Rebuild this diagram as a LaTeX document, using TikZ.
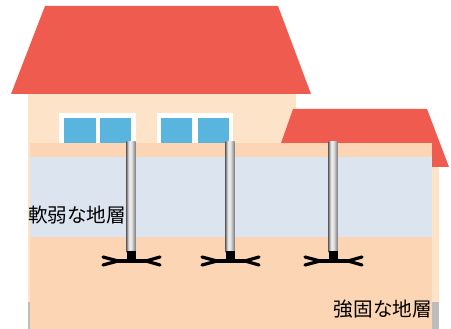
\documentclass[tikz,border=0pt]{standalone}
\usepackage{fontspec}
\newfontfamily\jpfont{Noto Sans CJK JP}
\definecolor{roof}{HTML}{F05B4F}
\definecolor{wall}{HTML}{FDE4C9}
\definecolor{soil}{HTML}{FCD5B4}
\definecolor{soft}{HTML}{DCE4F0}
\definecolor{glass}{HTML}{59B5DD}
\definecolor{base}{HTML}{BDBDBD}
% metal look of the pile shaft, left to right
\pgfdeclarehorizontalshading{shaft}{100bp}{%
	color(0bp)=(black!55); color(25bp)=(black!55); color(33bp)=(black!25);
	color(42bp)=(black!5); color(55bp)=(black!15); color(66bp)=(black!35);
	color(75bp)=(black!50); color(100bp)=(black!50)}

\begin{document}
\begin{tikzpicture}[x=1pt,y=-1pt,
	pile/.style={shading=shaft, shading angle=0},
	blade/.style={black, line width=3.2pt, line cap=round, line join=round},
	label/.style={font=\jpfont\fontsize{19.6}{20}\selectfont, inner sep=0pt}]
	\useasboundingbox (0,0) rectangle (451,329);

	% walls and base
	\fill[base] (28,302) rectangle (439,329);
	\fill[wall] (28,94) rectangle (296,146);
	\fill[wall] (28,145) rectangle (439,302);

	% roofs
	\fill[roof] (280,146)--(293,109)--(427,109)--(449,167)--(432,167)--(432,146)--cycle;
	\fill[roof] (45,6)--(278,6)--(311,94)--(11,94)--cycle;

	% windows
	\fill[white] (59,113) rectangle (136,146);
	\fill[glass] (64,118) rectangle (96,146);
	\fill[glass] (100,118) rectangle (131,146);
	\fill[white] (157,113) rectangle (233,146);
	\fill[glass] (161,118) rectangle (192,146);
	\fill[glass] (198,118) rectangle (229,146);

	% ground layers
	\fill[soil] (30,143.5) rectangle (432,329);
	\fill[soft] (30,157) rectangle (432,237);

	% piles with blades
	\foreach \x in {131,230,333}{
		\shade[pile] (\x-4.5,142) rectangle (\x+4.5,253);
		\fill[black] (\x-4.5,251) rectangle (\x+4.5,259);
		\draw[blade] (\x-28,257)--(\x-13,261)--(\x-28,265);
		\draw[blade] (\x+29,257)--(\x+15,261)--(\x+29,265);
		\draw[blade] (\x-13,261)--(\x+15,261);
	}

	\node[label, anchor=west] (weak) at (28,215) {軟弱な地層};
	\node[label, anchor=east] (firm) at (432,309) {強固な地層};
\end{tikzpicture}
\end{document}
